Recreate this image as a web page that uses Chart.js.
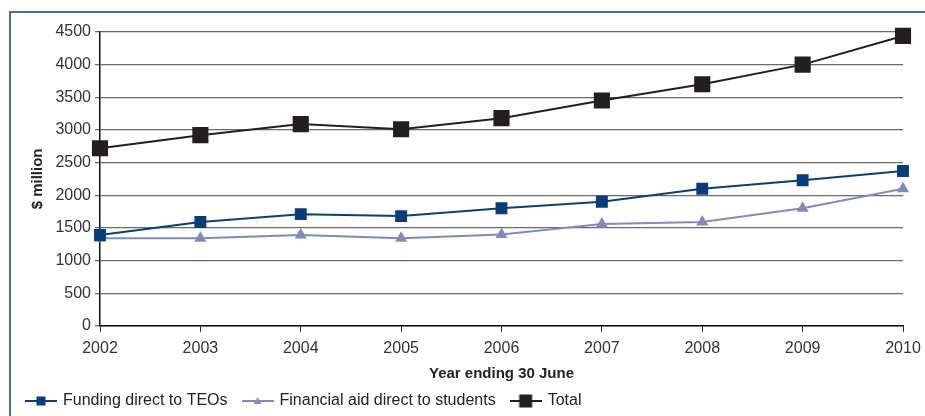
<!DOCTYPE html>
<html>
<head>
<meta charset="utf-8">
<script src="https://cdn.jsdelivr.net/npm/chart.js@4/dist/chart.umd.min.js"></script>
<style>
  html, body { margin: 0; padding: 0; background: #fff; }
  #wrap { position: relative; width: 925px; height: 416px; overflow: hidden; }
  #frame { position: absolute; left: 9px; top: 11px; right: -5px; bottom: -5px;
           border-top: 2px solid #3f6ea8; border-left: 2px solid #3f6ea8; }
  canvas { position: absolute; left: 0; top: 0; }
</style>
</head>
<body>
<div id="wrap">
  <div id="frame"></div>
  <canvas id="chart" width="925" height="416"></canvas>
</div>
<script>
// Data ($ million, year ending 30 June)
const years = ['2002', '2003', '2004', '2005', '2006', '2007', '2008', '2009', '2010'];
const fundingTEOs = [1390, 1590, 1710, 1680, 1800, 1900, 2100, 2230, 2370];
const financialAid = [1340, 1340, 1390, 1340, 1400, 1560, 1590, 1800, 2100];
const totals = [2720, 2920, 3090, 3010, 3180, 3450, 3700, 4000, 4440];
const yTicks = [0, 500, 1000, 1500, 2000, 2500, 3000, 3500, 4000, 4500];

const seriesNames = ['Funding direct to TEOs', 'Financial aid direct to students', 'Total'];
const seriesColors = ['#0a3d7c', '#7d8cbd', '#231f20'];

// small legend swatch: line with the marker in the middle
function legendSwatch(color, shape, size) {
  const c = document.createElement('canvas');
  c.width = 32; c.height = 14;
  const g = c.getContext('2d');
  g.strokeStyle = color; g.lineWidth = 2;
  g.beginPath(); g.moveTo(0, 7); g.lineTo(32, 7); g.stroke();
  g.fillStyle = color;
  if (shape === 'triangle') {
    g.beginPath(); g.moveTo(16, 7 - size / 2); g.lineTo(16 + size / 2, 7 + size / 2 - 1); g.lineTo(16 - size / 2, 7 + size / 2 - 1); g.closePath(); g.fill();
  } else {
    g.fillRect(16 - size / 2, 7 - size / 2, size, size);
  }
  return c;
}
const swatches = [
  legendSwatch(seriesColors[0], 'rect', 9),
  legendSwatch(seriesColors[1], 'triangle', 8),
  legendSwatch(seriesColors[2], 'rect', 13)
];

const ctx = document.getElementById('chart').getContext('2d');
new Chart(ctx, {
  type: 'line',
  data: {
    labels: years,
    datasets: [
      { label: seriesNames[0], data: fundingTEOs, borderColor: seriesColors[0], backgroundColor: seriesColors[0],
        borderWidth: 2, pointStyle: 'rect', pointRadius: 7, pointHoverRadius: 7, tension: 0 },
      { label: seriesNames[1], data: financialAid, borderColor: seriesColors[1], backgroundColor: seriesColors[1],
        borderWidth: 2, pointStyle: 'triangle', pointRadius: 5, pointHoverRadius: 5, tension: 0 },
      { label: seriesNames[2], data: totals, borderColor: seriesColors[2], backgroundColor: seriesColors[2],
        borderWidth: 2, pointStyle: 'rect', pointRadius: 10, pointHoverRadius: 10, tension: 0 }
    ]
  },
  options: {
    responsive: false,
    animation: false,
    devicePixelRatio: 1,
    clip: false,
    layout: { padding: { left: 11, right: 22, top: 32, bottom: -3 } },
    plugins: {
      tooltip: { enabled: false },
      legend: {
        position: 'bottom',
        align: 'start',
        labels: {
          usePointStyle: true,
          pointStyleWidth: 28,
          padding: 16,
          color: '#222',
          font: { family: 'Liberation Sans', size: 16 },
          generateLabels: chart => chart.data.datasets.map((ds, i) => ({
            text: ds.label,
            fillStyle: ds.borderColor,
            strokeStyle: ds.borderColor,
            fontColor: '#222',
            lineWidth: 0,
            pointStyle: swatches[i],
            datasetIndex: i,
            hidden: false
          }))
        }
      }
    },
    scales: {
      x: {
        type: 'category',
        offset: false,
        afterFit: axis => { axis.paddingLeft = 0; axis.paddingRight = 0; },
        grid: { drawOnChartArea: false, drawTicks: true, tickLength: 6, color: '#222', lineWidth: 1 },
        border: { color: '#111', width: 1.5 },
        ticks: { color: '#333', padding: 7, maxRotation: 0, autoSkip: false,
                 font: { family: 'Liberation Sans', size: 16 } },
        title: { display: true, text: 'Year ending 30 June', color: '#222',
                 padding: { top: 0, bottom: -6 },
                 font: { family: 'Liberation Sans', size: 15, weight: 'bold' } }
      },
      y: {
        min: 0,
        max: 4500,
        afterBuildTicks: axis => { axis.ticks = yTicks.map(v => ({ value: v })); },
        afterFit: axis => { axis.width = 89; },
        grid: { color: '#6a6a6a', lineWidth: 1.3, tickLength: 5 },
        border: { color: '#111', width: 1.5 },
        ticks: { color: '#333', padding: 4, callback: v => String(v),
                 font: { family: 'Liberation Sans', size: 16 } },
        title: { display: true, text: '$ million', color: '#222',
                 padding: { top: 18, bottom: 2 },
                 font: { family: 'Liberation Sans', size: 15, weight: 'bold' } }
      }
    }
  }
});
</script>
</body>
</html>
